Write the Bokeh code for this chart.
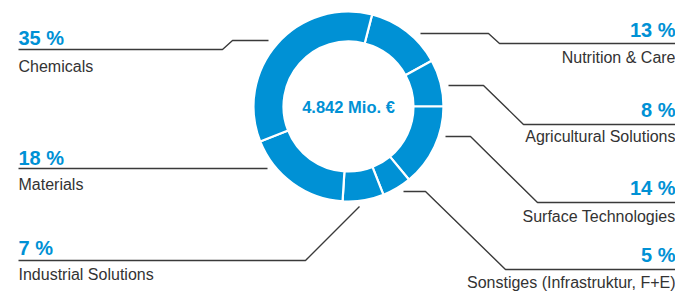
from math import radians
from bokeh.plotting import figure
from bokeh.models import Range1d, ColumnDataSource
from bokeh.core.properties import value
from bokeh.embed import file_html
from bokeh.resources import INLINE

# ---- data ----
categories = ["Nutrition & Care", "Agricultural Solutions", "Surface Technologies",
              "Sonstiges (Infrastruktur, F+E)", "Industrial Solutions", "Materials", "Chemicals"]
shares = [13, 8, 14, 5, 7, 18, 35]
pct_labels = ["13 %", "8 %", "14 %", "5 %", "7 %", "18 %", "35 %"]
total_label = "4.842 Mio. €"

# ---- layout (pixel coordinates from the top-left of the picture) ----
W, H = 675, 292
CX, CY = 348, 106
R_OUT, R_IN = 95, 65
START_DEG = 14.4  # clockwise from 12 o'clock

BLUE = "#0091d5"
GREY = "#333333"
LINE = "#3a3a3a"
FONT = "Liberation Sans"
RX = 675  # right-aligned label edge
PCT_SIZE = 20
NAME_SIZE = 16

# label placement: (x, pct_baseline, name_baseline, align)
label_pos = {
    "Nutrition & Care": (RX, 36, 63, "right"),
    "Agricultural Solutions": (RX, 116, 142, "right"),
    "Surface Technologies": (RX, 194, 222, "right"),
    "Sonstiges (Infrastruktur, F+E)": (RX, 261, 288, "right"),
    "Industrial Solutions": (18, 254, 280, "left"),
    "Materials": (18, 164, 190, "left"),
    "Chemicals": (18, 44, 72, "left"),
}
leaders = {
    "Nutrition & Care": [(420, 33), (488, 33), (499, 43), (680, 43)],
    "Agricultural Solutions": [(448, 85), (483, 85), (523, 124), (680, 124)],
    "Surface Technologies": [(445, 136), (470, 136), (537, 202), (680, 202)],
    "Sonstiges (Infrastruktur, F+E)": [(403, 191), (425, 191), (505, 269), (680, 269)],
    "Industrial Solutions": [(18, 260), (305, 260), (359, 206)],
    "Materials": [(18, 168), (267, 168)],
    "Chemicals": [(18, 49), (222, 49), (232, 40), (268, 40)],
}

p = figure(width=W, height=H, output_backend="svg", toolbar_location=None,
           x_range=Range1d(0, W), y_range=Range1d(-H, 0),
           min_border=0, outline_line_color=None, background_fill_color="white",
           border_fill_color="white")
p.axis.visible = False
p.grid.visible = False

# donut
starts, ends = [], []
cum = 0.0
for s in shares:
    a0 = START_DEG + cum * 3.6
    cum += s
    a1 = START_DEG + cum * 3.6
    starts.append(radians(90 - a0))
    ends.append(radians(90 - a1))
src = ColumnDataSource(dict(cat=categories, start=starts, end=ends))
p.annular_wedge(x=CX, y=-CY, inner_radius=R_IN, outer_radius=R_OUT,
                start_angle="start", end_angle="end", direction="clock",
                fill_color=BLUE, line_color="white", line_width=2.2, source=src)

# centre label
p.text(x=[CX], y=[-CY], text=[total_label], text_color=BLUE, text_font=value(FONT),
       text_font_size="16.5px", text_font_style="bold", text_align="center",
       text_baseline="middle")

# leader lines
for cat in categories:
    pts = leaders[cat]
    p.line([q[0] for q in pts], [-q[1] for q in pts], line_color=LINE, line_width=1.4)

# labels (positioned by their middle: baseline - 0.35 * font size)
for cat, pct in zip(categories, pct_labels):
    x, yb1, yb2, al = label_pos[cat]
    p.text(x=[x], y=[-(yb1 - 0.35 * PCT_SIZE)], text=[pct], text_color=BLUE,
           text_font=value(FONT), text_font_size=f"{PCT_SIZE}px", text_font_style="bold",
           text_align=al, text_baseline="middle")
    p.text(x=[x], y=[-(yb2 - 0.35 * NAME_SIZE)], text=[cat], text_color=GREY,
           text_font=value(FONT), text_font_size=f"{NAME_SIZE}px",
           text_align=al, text_baseline="middle")

open("out.html", "w").write(file_html(p, INLINE))
